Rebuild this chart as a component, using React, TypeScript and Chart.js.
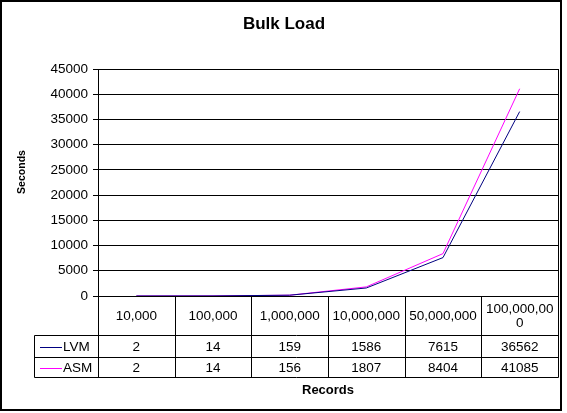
import { useEffect, useRef } from "react";
import { Chart, registerables } from "chart.js";

Chart.register(...registerables);

// ---- data ----
const chartTitle = "Bulk Load";
const xAxisTitle = "Records";
const yAxisTitle = "Seconds";
const categories = ["10,000", "100,000", "1,000,000", "10,000,000", "50,000,000", "100,000,000"];
const seriesNames = ["LVM", "ASM"];
const lvmValues = [2, 14, 159, 1586, 7615, 36562];
const asmValues = [2, 14, 156, 1807, 8404, 41085];
const yMin = 0;
const yMax = 45000;
const yStep = 5000;
const seriesColors = ["#000080", "#FF00FF"];

const FONT = "'Liberation Sans', Arial, sans-serif";

function wrapText(ctx: CanvasRenderingContext2D, text: string, maxW: number): string[] {
  const lines: string[] = [];
  let cur = "";
  for (const ch of text) {
    if (cur && ctx.measureText(cur + ch).width > maxW) {
      lines.push(cur);
      cur = ch;
    } else {
      cur += ch;
    }
  }
  lines.push(cur);
  return lines;
}

const excelPlugin = {
  id: "excelDecor",
  beforeDraw(chart: any) {
    const { ctx, width, height } = chart;
    ctx.save();
    ctx.fillStyle = "#ffffff";
    ctx.fillRect(0, 0, width, height);
    ctx.restore();
  },
  afterDraw(chart: any) {
    const { ctx, chartArea: a, scales } = chart;
    const x = scales.x;
    const allSeries = [lvmValues, asmValues];
    ctx.save();
    ctx.strokeStyle = "#000";
    ctx.lineWidth = 1;
    const L = Math.round(a.left) + 0.5;
    const R = Math.round(a.right) + 0.5;
    const T = Math.round(a.top) + 0.5;
    const B = Math.round(a.bottom) + 0.5;
    // plot border
    ctx.strokeRect(L, T, R - L, B - T);

    // data table
    const n = categories.length;
    const colW = (a.right - a.left) / n;
    const headerBottom = B + 39;
    const row1Bottom = headerBottom + 22;
    const row2Bottom = row1Bottom + 20;
    const legendLeft = 34.5;

    ctx.beginPath();
    for (let i = 0; i <= n; i++) {
      const cx = Math.round(x.getPixelForValue(i) - colW / 2) + 0.5;
      const xx = i === n ? R : i === 0 ? L : cx;
      ctx.moveTo(xx, B);
      ctx.lineTo(xx, row2Bottom);
    }
    ctx.moveTo(legendLeft, headerBottom);
    ctx.lineTo(legendLeft, row2Bottom);
    for (const yy of [headerBottom, row1Bottom, row2Bottom]) {
      ctx.moveTo(legendLeft, yy);
      ctx.lineTo(R, yy);
    }
    ctx.stroke();

    ctx.fillStyle = "#000";
    ctx.font = `13.5px ${FONT}`;
    ctx.textAlign = "center";
    ctx.textBaseline = "middle";
    const headerMid = (B + headerBottom) / 2 + 0.5;
    categories.forEach((c, i) => {
      const cx = x.getPixelForValue(i);
      const lines = wrapText(ctx, c, colW - 6);
      const lh = 13.5;
      const start = headerMid - ((lines.length - 1) * lh) / 2;
      lines.forEach((ln, k) => ctx.fillText(ln, cx, start + k * lh));
    });
    const rowMids = [(headerBottom + row1Bottom) / 2 + 0.5, (row1Bottom + row2Bottom) / 2 + 0.5];
    allSeries.forEach((vals, s) => {
      vals.forEach((v, i) => {
        ctx.fillText(String(v), x.getPixelForValue(i), rowMids[s]);
      });
    });
    // legend keys
    seriesNames.forEach((name, s) => {
      const y = Math.round(rowMids[s]) + 0.5;
      ctx.strokeStyle = seriesColors[s];
      ctx.beginPath();
      ctx.moveTo(40, y);
      ctx.lineTo(62, y);
      ctx.stroke();
      ctx.textAlign = "left";
      ctx.fillStyle = "#000";
      ctx.fillText(name, 63, rowMids[s]);
    });

    // titles
    ctx.textAlign = "center";
    ctx.textBaseline = "middle";
    ctx.font = `bold 17px ${FONT}`;
    ctx.fillText(chartTitle, (a.left + a.right) / 2 - 44, 24);
    ctx.font = `bold 13px ${FONT}`;
    ctx.fillText(xAxisTitle, (a.left + a.right) / 2, 390);
    ctx.save();
    ctx.translate(22.5, 172);
    ctx.rotate(-Math.PI / 2);
    ctx.font = `bold 10.5px ${FONT}`;
    ctx.fillText(yAxisTitle, 0, 0);
    ctx.restore();

    // outer frame
    ctx.strokeStyle = "#000";
    ctx.lineWidth = 2;
    ctx.strokeRect(1, 1, 560, 409);
    ctx.restore();
  },
};

export default function App() {
  const ref = useRef<HTMLCanvasElement | null>(null);
  useEffect(() => {
    document.body.style.margin = "0";
    const canvas = ref.current!;
    const chart = new Chart(canvas, {
      type: "line",
      data: {
        labels: categories,
        datasets: [
          {
            label: seriesNames[0],
            data: lvmValues,
            borderColor: seriesColors[0],
            backgroundColor: seriesColors[0],
            borderWidth: 1,
            pointRadius: 0,
            tension: 0,
          },
          {
            label: seriesNames[1],
            data: asmValues,
            borderColor: seriesColors[1],
            backgroundColor: seriesColors[1],
            borderWidth: 1,
            pointRadius: 0,
            tension: 0,
          },
        ],
      },
      options: {
        responsive: false,
        animation: false,
        devicePixelRatio: 1,
        layout: { padding: { left: 0, right: 9, top: 69, bottom: 117 } },
        plugins: {
          legend: { display: false },
          title: { display: false },
          tooltip: { enabled: false },
        },
        scales: {
          x: {
            type: "category",
            display: false,
            offset: true,
          },
          y: {
            z: 1,
            min: yMin,
            max: yMax,
            afterFit: (s: any) => {
              s.width = 98;
            },
            ticks: {
              stepSize: yStep,
              color: "#000",
              padding: 5,
              font: { family: FONT, size: 13.5 },
              callback: (v: any) => String(v),
            },
            grid: { color: "#000", lineWidth: 1, tickLength: 5, drawTicks: true },
            border: { display: true, color: "#000" },
          },
        },
      },
      plugins: [excelPlugin],
    });
    return () => chart.destroy();
  }, []);
  return (
    <div style={{ width: 567, height: 413 }}>
      <canvas ref={ref} width={567} height={413} style={{ display: "block" }} />
    </div>
  );
}
